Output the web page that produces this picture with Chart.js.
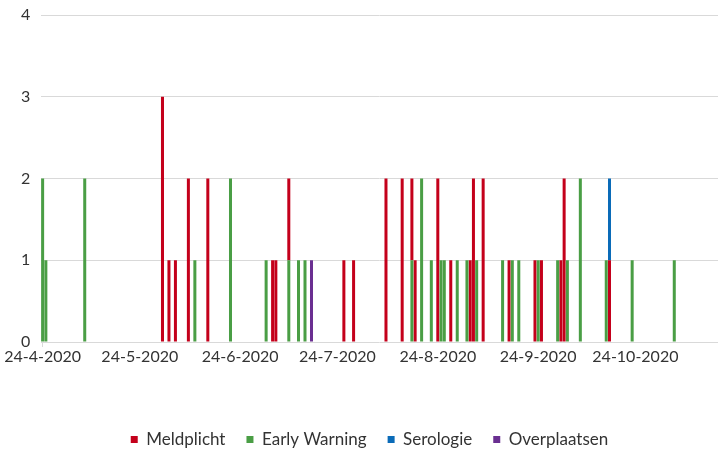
<!DOCTYPE html>
<html>
<head>
<meta charset="utf-8">
<script src="https://cdn.jsdelivr.net/npm/chart.js@4.4.1/dist/chart.umd.min.js"></script>
<style>
    html, body { margin: 0; padding: 0; background: #fff; }
    #ChartWrap { width: 720px; height: 452px; }
</style>
</head>
<body>
<div id="ChartWrap"><canvas id="MeldingenChart" width="720" height="452"></canvas></div>
<script>
    // x axis: one category per day, starting 24-4-2020
    var firstDay = [2020, 4, 24];
    var dayCount = 209;
    var tickLabels = ['24-4-2020', '24-5-2020', '24-6-2020', '24-7-2020', '24-8-2020', '24-9-2020', '24-10-2020'];

    var seriesNames = ['Meldplicht', 'Early Warning', 'Serologie', 'Overplaatsen'];

    var meldplichtDates = ['31-5-2020', '2-6-2020', '4-6-2020', '8-6-2020', '14-6-2020', '4-7-2020', '5-7-2020',
        '9-7-2020', '26-7-2020', '29-7-2020', '8-8-2020', '13-8-2020', '16-8-2020', '17-8-2020', '24-8-2020',
        '28-8-2020', '3-9-2020', '4-9-2020', '7-9-2020', '15-9-2020', '23-9-2020', '25-9-2020', '1-10-2020',
        '2-10-2020', '16-10-2020'];
    var meldplichtCounts = [3, 1, 1, 2, 2, 1, 1, 1, 1, 1, 2, 2, 1, 1, 2, 1, 1, 2, 2, 1, 1, 1, 1, 2, 1];

    var earlyWarningDates = ['24-4-2020', '25-4-2020', '7-5-2020', '10-6-2020', '21-6-2020', '2-7-2020', '9-7-2020',
        '12-7-2020', '14-7-2020', '16-8-2020', '19-8-2020', '22-8-2020', '25-8-2020', '26-8-2020', '30-8-2020',
        '2-9-2020', '5-9-2020', '13-9-2020', '16-9-2020', '18-9-2020', '24-9-2020', '30-9-2020', '3-10-2020',
        '7-10-2020', '15-10-2020', '23-10-2020', '5-11-2020'];
    var earlyWarningCounts = [2, 1, 2, 1, 2, 1, 1, 1, 1, 1, 2, 1, 1, 1, 1, 1, 1, 1, 1, 1, 1, 1, 1, 2, 1, 1, 1];

    var serologieDates = ['16-10-2020'];
    var serologieCounts = [1];

    var overplaatsenDates = ['16-7-2020'];
    var overplaatsenCounts = [1];

    var colors = {
        meldplicht: '#c4001b',
        earlyWarning: '#4a9e45',
        serologie: '#0a6bb8',
        overplaatsen: '#6a2f91'
    };

    function buildDayLabels() {
        var labels = [];
        for (var i = 0; i < dayCount; i++) {
            var d = new Date(Date.UTC(firstDay[0], firstDay[1] - 1, firstDay[2] + i));
            labels.push(d.getUTCDate() + '-' + (d.getUTCMonth() + 1) + '-' + d.getUTCFullYear());
        }
        return labels;
    }

    function points(dates, counts) {
        return dates.map(function (d, i) { return { x: d, y: counts[i] }; });
    }

    function isTick(label) {
        return tickLabels.indexOf(label) !== -1;
    }

    var dayLabels = buildDayLabels();
    var textColor = '#333333';
    var gridColor = '#d9d9d9';
    var font = { family: 'Lato', size: 16 };

    new Chart(document.getElementById('MeldingenChart'), {
        type: 'bar',
        data: {
            labels: dayLabels,
            datasets: [
                { label: seriesNames[0], data: points(meldplichtDates, meldplichtCounts), backgroundColor: colors.meldplicht, order: 1 },
                { label: seriesNames[1], data: points(earlyWarningDates, earlyWarningCounts), backgroundColor: colors.earlyWarning, order: 0 },
                { label: seriesNames[2], data: points(serologieDates, serologieCounts), backgroundColor: colors.serologie, order: 2 },
                { label: seriesNames[3], data: points(overplaatsenDates, overplaatsenCounts), backgroundColor: colors.overplaatsen, order: 3 }
            ]
        },
        options: {
            responsive: false,
            animation: false,
            layout: { padding: { top: 15, right: 2, bottom: -6, left: 21 } },
            datasets: { bar: { barPercentage: 1, categoryPercentage: 0.93, borderWidth: 0 } },
            scales: {
                x: {
                    stacked: true,
                    afterFit: function (scale) { scale.height = 68; },
                    border: { display: false },
                    grid: {
                        offset: false,
                        drawOnChartArea: false,
                        tickLength: 5,
                        color: function (ctx) { return ctx.tick && isTick(dayLabels[ctx.index]) ? gridColor : 'rgba(0,0,0,0)'; }
                    },
                    ticks: {
                        autoSkip: false,
                        maxRotation: 0,
                        padding: 0,
                        color: textColor,
                        font: font,
                        callback: function (value) {
                            var lab = this.getLabelForValue(value);
                            return isTick(lab) ? lab : null;
                        }
                    }
                },
                y: {
                    stacked: true,
                    min: 0,
                    max: 4,
                    afterFit: function (scale) { scale.width = 20; },
                    border: { display: false },
                    grid: { color: gridColor, drawTicks: false },
                    ticks: { stepSize: 1, padding: 0, crossAlign: 'far', color: textColor, font: font }
                }
            },
            plugins: {
                tooltip: { enabled: false },
                legend: {
                    position: 'bottom',
                    labels: {
                        boxWidth: 7,
                        boxHeight: 7,
                        padding: 21,
                        color: textColor,
                        font: { family: 'Lato', size: 17 },
                        sort: function (a, b) { return a.datasetIndex - b.datasetIndex; }
                    }
                }
            }
        }
    });
</script>
</body>
</html>
